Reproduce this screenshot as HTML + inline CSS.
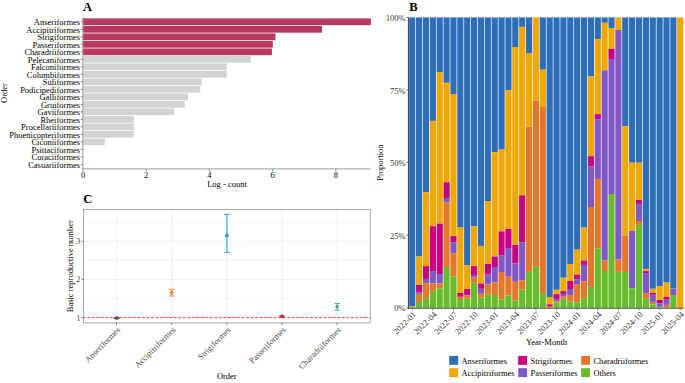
<!DOCTYPE html>
<html><head><meta charset="utf-8"><style>
html,body{margin:0;padding:0;background:#fff;}
body{width:685px;height:383px;overflow:hidden;}
svg{display:block;font-family:"Liberation Serif", serif;}
</style></head><body>
<svg width="685" height="383" viewBox="0 0 685 383">
<rect width="685" height="383" fill="#fff"/>
<text x="83.00" y="11.40" font-size="12.5" text-anchor="start" fill="#000" font-weight="bold">A</text>
<rect x="83.0" y="18.43" width="287.90" height="6.75" fill="#B93A5E"/>
<line x1="80.9" x2="82.8" y1="21.80" y2="21.80" stroke="#333" stroke-width="0.75"/>
<text x="80.10" y="25.30" font-size="8.5" text-anchor="end" fill="#000" font-weight="normal">Anseriformes</text>
<rect x="83.0" y="25.93" width="239.10" height="6.75" fill="#B93A5E"/>
<line x1="80.9" x2="82.8" y1="29.31" y2="29.31" stroke="#333" stroke-width="0.75"/>
<text x="80.10" y="32.81" font-size="8.5" text-anchor="end" fill="#000" font-weight="normal">Accipitriformes</text>
<rect x="83.0" y="33.44" width="192.50" height="6.75" fill="#B93A5E"/>
<line x1="80.9" x2="82.8" y1="36.81" y2="36.81" stroke="#333" stroke-width="0.75"/>
<text x="80.10" y="40.31" font-size="8.5" text-anchor="end" fill="#000" font-weight="normal">Strigiformes</text>
<rect x="83.0" y="40.94" width="189.80" height="6.75" fill="#B93A5E"/>
<line x1="80.9" x2="82.8" y1="44.32" y2="44.32" stroke="#333" stroke-width="0.75"/>
<text x="80.10" y="47.82" font-size="8.5" text-anchor="end" fill="#000" font-weight="normal">Passeriformes</text>
<rect x="83.0" y="48.45" width="188.90" height="6.75" fill="#B93A5E"/>
<line x1="80.9" x2="82.8" y1="51.82" y2="51.82" stroke="#333" stroke-width="0.75"/>
<text x="80.10" y="55.32" font-size="8.5" text-anchor="end" fill="#000" font-weight="normal">Charadriiformes</text>
<rect x="83.0" y="55.95" width="168.00" height="6.75" fill="#D3D3D3"/>
<line x1="80.9" x2="82.8" y1="59.33" y2="59.33" stroke="#333" stroke-width="0.75"/>
<text x="80.10" y="62.83" font-size="8.5" text-anchor="end" fill="#000" font-weight="normal">Pelecaniformes</text>
<rect x="83.0" y="63.46" width="143.80" height="6.75" fill="#D3D3D3"/>
<line x1="80.9" x2="82.8" y1="66.83" y2="66.83" stroke="#333" stroke-width="0.75"/>
<text x="80.10" y="70.33" font-size="8.5" text-anchor="end" fill="#000" font-weight="normal">Falconiformes</text>
<rect x="83.0" y="70.96" width="143.80" height="6.75" fill="#D3D3D3"/>
<line x1="80.9" x2="82.8" y1="74.34" y2="74.34" stroke="#333" stroke-width="0.75"/>
<text x="80.10" y="77.84" font-size="8.5" text-anchor="end" fill="#000" font-weight="normal">Columbiformes</text>
<rect x="83.0" y="78.47" width="118.70" height="6.75" fill="#D3D3D3"/>
<line x1="80.9" x2="82.8" y1="81.84" y2="81.84" stroke="#333" stroke-width="0.75"/>
<text x="80.10" y="85.34" font-size="8.5" text-anchor="end" fill="#000" font-weight="normal">Suliformes</text>
<rect x="83.0" y="85.97" width="117.20" height="6.75" fill="#D3D3D3"/>
<line x1="80.9" x2="82.8" y1="89.35" y2="89.35" stroke="#333" stroke-width="0.75"/>
<text x="80.10" y="92.85" font-size="8.5" text-anchor="end" fill="#000" font-weight="normal">Podicipediformes</text>
<rect x="83.0" y="93.48" width="105.00" height="6.75" fill="#D3D3D3"/>
<line x1="80.9" x2="82.8" y1="96.85" y2="96.85" stroke="#333" stroke-width="0.75"/>
<text x="80.10" y="100.35" font-size="8.5" text-anchor="end" fill="#000" font-weight="normal">Galliformes</text>
<rect x="83.0" y="100.98" width="101.80" height="6.75" fill="#D3D3D3"/>
<line x1="80.9" x2="82.8" y1="104.36" y2="104.36" stroke="#333" stroke-width="0.75"/>
<text x="80.10" y="107.86" font-size="8.5" text-anchor="end" fill="#000" font-weight="normal">Gruiformes</text>
<rect x="83.0" y="108.49" width="91.20" height="6.75" fill="#D3D3D3"/>
<line x1="80.9" x2="82.8" y1="111.86" y2="111.86" stroke="#333" stroke-width="0.75"/>
<text x="80.10" y="115.36" font-size="8.5" text-anchor="end" fill="#000" font-weight="normal">Gaviiformes</text>
<rect x="83.0" y="115.99" width="50.80" height="6.75" fill="#D3D3D3"/>
<line x1="80.9" x2="82.8" y1="119.37" y2="119.37" stroke="#333" stroke-width="0.75"/>
<text x="80.10" y="122.87" font-size="8.5" text-anchor="end" fill="#000" font-weight="normal">Rheiformes</text>
<rect x="83.0" y="123.50" width="50.80" height="6.75" fill="#D3D3D3"/>
<line x1="80.9" x2="82.8" y1="126.87" y2="126.87" stroke="#333" stroke-width="0.75"/>
<text x="80.10" y="130.37" font-size="8.5" text-anchor="end" fill="#000" font-weight="normal">Procellariiformes</text>
<rect x="83.0" y="131.00" width="50.80" height="6.75" fill="#D3D3D3"/>
<line x1="80.9" x2="82.8" y1="134.38" y2="134.38" stroke="#333" stroke-width="0.75"/>
<text x="80.10" y="137.88" font-size="8.5" text-anchor="end" fill="#000" font-weight="normal">Phoenicopteriformes</text>
<rect x="83.0" y="138.51" width="21.90" height="6.75" fill="#D3D3D3"/>
<line x1="80.9" x2="82.8" y1="141.88" y2="141.88" stroke="#333" stroke-width="0.75"/>
<text x="80.10" y="145.38" font-size="8.5" text-anchor="end" fill="#000" font-weight="normal">Ciconiiformes</text>
<line x1="80.9" x2="82.8" y1="149.39" y2="149.39" stroke="#333" stroke-width="0.75"/>
<text x="80.10" y="152.89" font-size="8.5" text-anchor="end" fill="#000" font-weight="normal">Psittaciformes</text>
<line x1="80.9" x2="82.8" y1="156.89" y2="156.89" stroke="#333" stroke-width="0.75"/>
<text x="80.10" y="160.39" font-size="8.5" text-anchor="end" fill="#000" font-weight="normal">Coraciiformes</text>
<line x1="80.9" x2="82.8" y1="164.40" y2="164.40" stroke="#333" stroke-width="0.75"/>
<text x="80.10" y="167.90" font-size="8.5" text-anchor="end" fill="#000" font-weight="normal">Casuariiformes</text>
<line x1="82.8" x2="82.8" y1="17.3" y2="169.401" stroke="#9a9a9a" stroke-width="1"/>
<line x1="82.3" x2="371.0" y1="168.90" y2="168.90" stroke="#9a9a9a" stroke-width="1"/>
<line x1="83.00" x2="83.00" y1="169.40" y2="171.40" stroke="#333" stroke-width="0.6"/>
<text x="83.00" y="177.60" font-size="8.5" text-anchor="middle" fill="#000" font-weight="normal">0</text>
<line x1="146.20" x2="146.20" y1="169.40" y2="171.40" stroke="#333" stroke-width="0.6"/>
<text x="146.20" y="177.60" font-size="8.5" text-anchor="middle" fill="#000" font-weight="normal">2</text>
<line x1="209.40" x2="209.40" y1="169.40" y2="171.40" stroke="#333" stroke-width="0.6"/>
<text x="209.40" y="177.60" font-size="8.5" text-anchor="middle" fill="#000" font-weight="normal">4</text>
<line x1="272.60" x2="272.60" y1="169.40" y2="171.40" stroke="#333" stroke-width="0.6"/>
<text x="272.60" y="177.60" font-size="8.5" text-anchor="middle" fill="#000" font-weight="normal">6</text>
<line x1="335.80" x2="335.80" y1="169.40" y2="171.40" stroke="#333" stroke-width="0.6"/>
<text x="335.80" y="177.60" font-size="8.5" text-anchor="middle" fill="#000" font-weight="normal">8</text>
<text x="227.00" y="187.30" font-size="8.5" text-anchor="middle" fill="#000" font-weight="normal">Log - count</text>
<text x="0.00" y="0.00" font-size="8.5" text-anchor="middle" fill="#000" font-weight="normal" transform="translate(6.6,93.10) rotate(-90)">Order</text>
<text x="409.20" y="11.40" font-size="12.5" text-anchor="start" fill="#000" font-weight="bold">B</text>
<rect x="409.14" y="17.40" width="6.18" height="289.20" fill="#2E6DB8"/>
<rect x="409.14" y="306.60" width="6.18" height="1.10" fill="#F0A800"/>
<rect x="416.02" y="17.40" width="6.18" height="239.10" fill="#2E6DB8"/>
<rect x="416.02" y="256.50" width="6.18" height="28.50" fill="#F0A800"/>
<rect x="416.02" y="285.00" width="6.18" height="7.20" fill="#C7007E"/>
<rect x="416.02" y="292.20" width="6.18" height="1.70" fill="#7F58C6"/>
<rect x="416.02" y="293.90" width="6.18" height="8.10" fill="#E5772B"/>
<rect x="416.02" y="302.00" width="6.18" height="5.70" fill="#67BC2B"/>
<rect x="422.89" y="17.40" width="6.18" height="174.80" fill="#2E6DB8"/>
<rect x="422.89" y="192.20" width="6.18" height="73.90" fill="#F0A800"/>
<rect x="422.89" y="266.10" width="6.18" height="12.80" fill="#C7007E"/>
<rect x="422.89" y="278.90" width="6.18" height="4.20" fill="#7F58C6"/>
<rect x="422.89" y="283.10" width="6.18" height="15.00" fill="#E5772B"/>
<rect x="422.89" y="298.10" width="6.18" height="9.60" fill="#67BC2B"/>
<rect x="429.76" y="17.40" width="6.18" height="103.50" fill="#2E6DB8"/>
<rect x="429.76" y="120.90" width="6.18" height="105.30" fill="#F0A800"/>
<rect x="429.76" y="226.20" width="6.18" height="44.90" fill="#C7007E"/>
<rect x="429.76" y="271.10" width="6.18" height="12.40" fill="#7F58C6"/>
<rect x="429.76" y="283.50" width="6.18" height="7.40" fill="#E5772B"/>
<rect x="429.76" y="290.90" width="6.18" height="16.80" fill="#67BC2B"/>
<rect x="436.63" y="17.40" width="6.18" height="55.00" fill="#2E6DB8"/>
<rect x="436.63" y="72.40" width="6.18" height="151.20" fill="#F0A800"/>
<rect x="436.63" y="223.60" width="6.18" height="50.50" fill="#C7007E"/>
<rect x="436.63" y="274.10" width="6.18" height="9.40" fill="#7F58C6"/>
<rect x="436.63" y="283.50" width="6.18" height="4.80" fill="#E5772B"/>
<rect x="436.63" y="288.30" width="6.18" height="19.40" fill="#67BC2B"/>
<rect x="443.50" y="17.40" width="6.18" height="65.40" fill="#2E6DB8"/>
<rect x="443.50" y="82.80" width="6.18" height="99.50" fill="#F0A800"/>
<rect x="443.50" y="182.30" width="6.18" height="15.70" fill="#C7007E"/>
<rect x="443.50" y="198.00" width="6.18" height="4.60" fill="#7F58C6"/>
<rect x="443.50" y="202.60" width="6.18" height="64.30" fill="#E5772B"/>
<rect x="443.50" y="266.90" width="6.18" height="40.80" fill="#67BC2B"/>
<rect x="450.38" y="17.40" width="6.18" height="76.60" fill="#2E6DB8"/>
<rect x="450.38" y="94.00" width="6.18" height="142.10" fill="#F0A800"/>
<rect x="450.38" y="236.10" width="6.18" height="6.00" fill="#C7007E"/>
<rect x="450.38" y="242.10" width="6.18" height="11.00" fill="#7F58C6"/>
<rect x="450.38" y="253.10" width="6.18" height="23.20" fill="#E5772B"/>
<rect x="450.38" y="276.30" width="6.18" height="31.40" fill="#67BC2B"/>
<rect x="457.25" y="17.40" width="6.18" height="209.60" fill="#2E6DB8"/>
<rect x="457.25" y="227.00" width="6.18" height="65.90" fill="#F0A800"/>
<rect x="457.25" y="292.90" width="6.18" height="3.90" fill="#C7007E"/>
<rect x="457.25" y="296.80" width="6.18" height="2.20" fill="#E5772B"/>
<rect x="457.25" y="299.00" width="6.18" height="8.70" fill="#67BC2B"/>
<rect x="464.12" y="17.40" width="6.18" height="247.90" fill="#2E6DB8"/>
<rect x="464.12" y="265.30" width="6.18" height="23.70" fill="#F0A800"/>
<rect x="464.12" y="289.00" width="6.18" height="5.90" fill="#C7007E"/>
<rect x="464.12" y="294.90" width="6.18" height="0.80" fill="#7F58C6"/>
<rect x="464.12" y="295.70" width="6.18" height="3.10" fill="#E5772B"/>
<rect x="464.12" y="298.80" width="6.18" height="8.90" fill="#67BC2B"/>
<rect x="470.99" y="17.40" width="6.18" height="208.80" fill="#2E6DB8"/>
<rect x="470.99" y="226.20" width="6.18" height="39.90" fill="#F0A800"/>
<rect x="470.99" y="266.10" width="6.18" height="8.90" fill="#C7007E"/>
<rect x="470.99" y="275.00" width="6.18" height="2.60" fill="#7F58C6"/>
<rect x="470.99" y="277.60" width="6.18" height="5.30" fill="#E5772B"/>
<rect x="470.99" y="282.90" width="6.18" height="24.80" fill="#67BC2B"/>
<rect x="477.86" y="17.40" width="6.18" height="228.50" fill="#2E6DB8"/>
<rect x="477.86" y="245.90" width="6.18" height="37.60" fill="#F0A800"/>
<rect x="477.86" y="283.50" width="6.18" height="5.30" fill="#C7007E"/>
<rect x="477.86" y="288.80" width="6.18" height="5.00" fill="#7F58C6"/>
<rect x="477.86" y="293.80" width="6.18" height="3.90" fill="#E5772B"/>
<rect x="477.86" y="297.70" width="6.18" height="10.00" fill="#67BC2B"/>
<rect x="484.74" y="17.40" width="6.18" height="183.60" fill="#2E6DB8"/>
<rect x="484.74" y="201.00" width="6.18" height="63.00" fill="#F0A800"/>
<rect x="484.74" y="264.00" width="6.18" height="10.60" fill="#C7007E"/>
<rect x="484.74" y="274.60" width="6.18" height="9.80" fill="#7F58C6"/>
<rect x="484.74" y="284.40" width="6.18" height="9.80" fill="#E5772B"/>
<rect x="484.74" y="294.20" width="6.18" height="13.50" fill="#67BC2B"/>
<rect x="491.61" y="17.40" width="6.18" height="134.80" fill="#2E6DB8"/>
<rect x="491.61" y="152.20" width="6.18" height="104.30" fill="#F0A800"/>
<rect x="491.61" y="256.50" width="6.18" height="10.50" fill="#C7007E"/>
<rect x="491.61" y="267.00" width="6.18" height="15.30" fill="#7F58C6"/>
<rect x="491.61" y="282.30" width="6.18" height="12.70" fill="#E5772B"/>
<rect x="491.61" y="295.00" width="6.18" height="12.70" fill="#67BC2B"/>
<rect x="498.48" y="17.40" width="6.18" height="132.20" fill="#2E6DB8"/>
<rect x="498.48" y="149.60" width="6.18" height="81.80" fill="#F0A800"/>
<rect x="498.48" y="231.40" width="6.18" height="23.70" fill="#C7007E"/>
<rect x="498.48" y="255.10" width="6.18" height="16.90" fill="#7F58C6"/>
<rect x="498.48" y="272.00" width="6.18" height="27.50" fill="#E5772B"/>
<rect x="498.48" y="299.50" width="6.18" height="8.20" fill="#67BC2B"/>
<rect x="505.35" y="17.40" width="6.18" height="72.70" fill="#2E6DB8"/>
<rect x="505.35" y="90.10" width="6.18" height="138.70" fill="#F0A800"/>
<rect x="505.35" y="228.80" width="6.18" height="19.20" fill="#C7007E"/>
<rect x="505.35" y="248.00" width="6.18" height="28.80" fill="#7F58C6"/>
<rect x="505.35" y="276.80" width="6.18" height="18.60" fill="#E5772B"/>
<rect x="505.35" y="295.40" width="6.18" height="12.30" fill="#67BC2B"/>
<rect x="512.22" y="17.40" width="6.18" height="29.60" fill="#2E6DB8"/>
<rect x="512.22" y="47.00" width="6.18" height="197.80" fill="#F0A800"/>
<rect x="512.22" y="244.80" width="6.18" height="18.70" fill="#C7007E"/>
<rect x="512.22" y="263.50" width="6.18" height="18.30" fill="#7F58C6"/>
<rect x="512.22" y="281.80" width="6.18" height="18.70" fill="#E5772B"/>
<rect x="512.22" y="300.50" width="6.18" height="7.20" fill="#67BC2B"/>
<rect x="519.10" y="17.40" width="6.18" height="9.50" fill="#2E6DB8"/>
<rect x="519.10" y="26.90" width="6.18" height="168.40" fill="#F0A800"/>
<rect x="519.10" y="195.30" width="6.18" height="46.90" fill="#C7007E"/>
<rect x="519.10" y="242.20" width="6.18" height="38.00" fill="#7F58C6"/>
<rect x="519.10" y="280.20" width="6.18" height="9.50" fill="#E5772B"/>
<rect x="519.10" y="289.70" width="6.18" height="18.00" fill="#67BC2B"/>
<rect x="525.97" y="17.40" width="6.18" height="36.20" fill="#2E6DB8"/>
<rect x="525.97" y="53.60" width="6.18" height="73.10" fill="#F0A800"/>
<rect x="525.97" y="126.70" width="6.18" height="145.20" fill="#E5772B"/>
<rect x="525.97" y="271.90" width="6.18" height="35.80" fill="#67BC2B"/>
<rect x="532.84" y="17.40" width="6.18" height="83.20" fill="#F0A800"/>
<rect x="532.84" y="100.60" width="6.18" height="166.20" fill="#E5772B"/>
<rect x="532.84" y="266.80" width="6.18" height="40.90" fill="#67BC2B"/>
<rect x="539.71" y="17.40" width="6.18" height="52.30" fill="#2E6DB8"/>
<rect x="539.71" y="69.70" width="6.18" height="37.30" fill="#F0A800"/>
<rect x="539.71" y="107.00" width="6.18" height="186.10" fill="#E5772B"/>
<rect x="539.71" y="293.10" width="6.18" height="14.60" fill="#67BC2B"/>
<rect x="546.58" y="17.40" width="6.18" height="279.60" fill="#2E6DB8"/>
<rect x="546.58" y="297.00" width="6.18" height="7.40" fill="#F0A800"/>
<rect x="546.58" y="304.40" width="6.18" height="1.60" fill="#C7007E"/>
<rect x="546.58" y="306.00" width="6.18" height="1.70" fill="#E5772B"/>
<rect x="553.46" y="17.40" width="6.18" height="272.40" fill="#2E6DB8"/>
<rect x="553.46" y="289.80" width="6.18" height="4.30" fill="#F0A800"/>
<rect x="553.46" y="294.10" width="6.18" height="4.80" fill="#C7007E"/>
<rect x="553.46" y="298.90" width="6.18" height="2.00" fill="#7F58C6"/>
<rect x="553.46" y="300.90" width="6.18" height="1.50" fill="#E5772B"/>
<rect x="553.46" y="302.40" width="6.18" height="5.30" fill="#67BC2B"/>
<rect x="560.33" y="17.40" width="6.18" height="260.30" fill="#2E6DB8"/>
<rect x="560.33" y="277.70" width="6.18" height="13.50" fill="#F0A800"/>
<rect x="560.33" y="291.20" width="6.18" height="2.70" fill="#C7007E"/>
<rect x="560.33" y="293.90" width="6.18" height="2.80" fill="#7F58C6"/>
<rect x="560.33" y="296.70" width="6.18" height="2.10" fill="#E5772B"/>
<rect x="560.33" y="298.80" width="6.18" height="8.90" fill="#67BC2B"/>
<rect x="567.20" y="17.40" width="6.18" height="246.70" fill="#2E6DB8"/>
<rect x="567.20" y="264.10" width="6.18" height="16.90" fill="#F0A800"/>
<rect x="567.20" y="281.00" width="6.18" height="8.00" fill="#C7007E"/>
<rect x="567.20" y="289.00" width="6.18" height="6.00" fill="#7F58C6"/>
<rect x="567.20" y="295.00" width="6.18" height="6.50" fill="#E5772B"/>
<rect x="567.20" y="301.50" width="6.18" height="6.20" fill="#67BC2B"/>
<rect x="574.07" y="17.40" width="6.18" height="232.30" fill="#2E6DB8"/>
<rect x="574.07" y="249.70" width="6.18" height="25.00" fill="#F0A800"/>
<rect x="574.07" y="274.70" width="6.18" height="4.50" fill="#C7007E"/>
<rect x="574.07" y="279.20" width="6.18" height="4.90" fill="#7F58C6"/>
<rect x="574.07" y="284.10" width="6.18" height="18.10" fill="#E5772B"/>
<rect x="574.07" y="302.20" width="6.18" height="5.50" fill="#67BC2B"/>
<rect x="580.94" y="17.40" width="6.18" height="210.20" fill="#2E6DB8"/>
<rect x="580.94" y="227.60" width="6.18" height="33.00" fill="#F0A800"/>
<rect x="580.94" y="260.60" width="6.18" height="4.30" fill="#C7007E"/>
<rect x="580.94" y="264.90" width="6.18" height="16.30" fill="#7F58C6"/>
<rect x="580.94" y="281.20" width="6.18" height="16.90" fill="#E5772B"/>
<rect x="580.94" y="298.10" width="6.18" height="9.60" fill="#67BC2B"/>
<rect x="587.82" y="17.40" width="6.18" height="58.90" fill="#2E6DB8"/>
<rect x="587.82" y="76.30" width="6.18" height="79.90" fill="#F0A800"/>
<rect x="587.82" y="156.20" width="6.18" height="10.40" fill="#C7007E"/>
<rect x="587.82" y="166.60" width="6.18" height="40.40" fill="#7F58C6"/>
<rect x="587.82" y="207.00" width="6.18" height="79.90" fill="#E5772B"/>
<rect x="587.82" y="286.90" width="6.18" height="20.80" fill="#67BC2B"/>
<rect x="594.69" y="17.40" width="6.18" height="21.70" fill="#2E6DB8"/>
<rect x="594.69" y="39.10" width="6.18" height="75.00" fill="#F0A800"/>
<rect x="594.69" y="114.10" width="6.18" height="5.50" fill="#C7007E"/>
<rect x="594.69" y="119.60" width="6.18" height="59.30" fill="#7F58C6"/>
<rect x="594.69" y="178.90" width="6.18" height="69.80" fill="#E5772B"/>
<rect x="594.69" y="248.70" width="6.18" height="59.00" fill="#67BC2B"/>
<rect x="601.56" y="17.40" width="6.18" height="5.40" fill="#2E6DB8"/>
<rect x="601.56" y="22.80" width="6.18" height="47.50" fill="#F0A800"/>
<rect x="601.56" y="70.30" width="6.18" height="190.20" fill="#7F58C6"/>
<rect x="601.56" y="260.50" width="6.18" height="10.50" fill="#E5772B"/>
<rect x="601.56" y="271.00" width="6.18" height="36.70" fill="#67BC2B"/>
<rect x="608.43" y="17.40" width="6.18" height="10.60" fill="#2E6DB8"/>
<rect x="608.43" y="28.00" width="6.18" height="20.80" fill="#F0A800"/>
<rect x="608.43" y="48.80" width="6.18" height="10.20" fill="#C7007E"/>
<rect x="608.43" y="59.00" width="6.18" height="135.00" fill="#7F58C6"/>
<rect x="608.43" y="194.00" width="6.18" height="113.70" fill="#67BC2B"/>
<rect x="615.30" y="17.40" width="6.18" height="12.40" fill="#F0A800"/>
<rect x="615.30" y="29.80" width="6.18" height="229.80" fill="#7F58C6"/>
<rect x="615.30" y="259.60" width="6.18" height="12.30" fill="#E5772B"/>
<rect x="615.30" y="271.90" width="6.18" height="35.80" fill="#67BC2B"/>
<rect x="622.18" y="17.40" width="6.18" height="108.70" fill="#2E6DB8"/>
<rect x="622.18" y="126.10" width="6.18" height="109.50" fill="#F0A800"/>
<rect x="622.18" y="235.60" width="6.18" height="36.30" fill="#E5772B"/>
<rect x="622.18" y="271.90" width="6.18" height="35.80" fill="#67BC2B"/>
<rect x="629.05" y="17.40" width="6.18" height="145.30" fill="#2E6DB8"/>
<rect x="629.05" y="162.70" width="6.18" height="68.20" fill="#F0A800"/>
<rect x="629.05" y="230.90" width="6.18" height="57.40" fill="#7F58C6"/>
<rect x="629.05" y="288.30" width="6.18" height="19.40" fill="#67BC2B"/>
<rect x="635.92" y="17.40" width="6.18" height="145.30" fill="#2E6DB8"/>
<rect x="635.92" y="162.70" width="6.18" height="37.30" fill="#F0A800"/>
<rect x="635.92" y="200.00" width="6.18" height="3.90" fill="#C7007E"/>
<rect x="635.92" y="203.90" width="6.18" height="17.10" fill="#7F58C6"/>
<rect x="635.92" y="221.00" width="6.18" height="3.90" fill="#E5772B"/>
<rect x="635.92" y="224.90" width="6.18" height="82.80" fill="#67BC2B"/>
<rect x="642.79" y="17.40" width="6.18" height="251.50" fill="#2E6DB8"/>
<rect x="642.79" y="268.90" width="6.18" height="2.20" fill="#F0A800"/>
<rect x="642.79" y="271.10" width="6.18" height="2.00" fill="#C7007E"/>
<rect x="642.79" y="273.10" width="6.18" height="20.00" fill="#7F58C6"/>
<rect x="642.79" y="293.10" width="6.18" height="5.70" fill="#E5772B"/>
<rect x="642.79" y="298.80" width="6.18" height="8.90" fill="#67BC2B"/>
<rect x="649.66" y="17.40" width="6.18" height="271.40" fill="#2E6DB8"/>
<rect x="649.66" y="288.80" width="6.18" height="4.00" fill="#F0A800"/>
<rect x="649.66" y="292.80" width="6.18" height="2.00" fill="#C7007E"/>
<rect x="649.66" y="294.80" width="6.18" height="7.10" fill="#7F58C6"/>
<rect x="649.66" y="301.90" width="6.18" height="2.40" fill="#E5772B"/>
<rect x="649.66" y="304.30" width="6.18" height="3.40" fill="#67BC2B"/>
<rect x="656.54" y="17.40" width="6.18" height="268.70" fill="#2E6DB8"/>
<rect x="656.54" y="286.10" width="6.18" height="13.90" fill="#F0A800"/>
<rect x="656.54" y="300.00" width="6.18" height="3.50" fill="#C7007E"/>
<rect x="656.54" y="303.50" width="6.18" height="3.30" fill="#7F58C6"/>
<rect x="656.54" y="306.80" width="6.18" height="0.90" fill="#67BC2B"/>
<rect x="663.41" y="17.40" width="6.18" height="265.20" fill="#2E6DB8"/>
<rect x="663.41" y="282.60" width="6.18" height="14.20" fill="#F0A800"/>
<rect x="663.41" y="296.80" width="6.18" height="3.00" fill="#C7007E"/>
<rect x="663.41" y="299.80" width="6.18" height="5.10" fill="#7F58C6"/>
<rect x="663.41" y="304.90" width="6.18" height="2.30" fill="#E5772B"/>
<rect x="663.41" y="307.20" width="6.18" height="0.50" fill="#67BC2B"/>
<rect x="670.28" y="17.40" width="6.18" height="271.00" fill="#2E6DB8"/>
<rect x="670.28" y="288.40" width="6.18" height="6.60" fill="#7F58C6"/>
<rect x="670.28" y="295.00" width="6.18" height="12.70" fill="#67BC2B"/>
<rect x="677.15" y="17.40" width="6.18" height="290.30" fill="#F0A800"/>
<line x1="408.40" x2="408.40" y1="17.4" y2="308.3" stroke="#222" stroke-width="0.9"/>
<line x1="408.00" x2="683.6" y1="308.20" y2="308.20" stroke="#222" stroke-width="0.9"/>
<line x1="406.20" x2="408.40" y1="17.40" y2="17.40" stroke="#333" stroke-width="0.6"/>
<text x="405.60" y="21.10" font-size="8.5" text-anchor="end" fill="#333" font-weight="normal">100%</text>
<line x1="406.20" x2="408.40" y1="89.97" y2="89.97" stroke="#333" stroke-width="0.6"/>
<text x="405.60" y="93.67" font-size="8.5" text-anchor="end" fill="#333" font-weight="normal">75%</text>
<line x1="406.20" x2="408.40" y1="162.55" y2="162.55" stroke="#333" stroke-width="0.6"/>
<text x="405.60" y="166.25" font-size="8.5" text-anchor="end" fill="#333" font-weight="normal">50%</text>
<line x1="406.20" x2="408.40" y1="235.13" y2="235.13" stroke="#333" stroke-width="0.6"/>
<text x="405.60" y="238.83" font-size="8.5" text-anchor="end" fill="#333" font-weight="normal">25%</text>
<line x1="406.20" x2="408.40" y1="307.70" y2="307.70" stroke="#333" stroke-width="0.6"/>
<text x="405.60" y="311.40" font-size="8.5" text-anchor="end" fill="#333" font-weight="normal">0%</text>
<line x1="412.24" x2="412.24" y1="308.60" y2="310.30" stroke="#333" stroke-width="0.6"/>
<text x="0.00" y="0.00" font-size="8.5" text-anchor="end" fill="#333" font-weight="normal" transform="translate(416.54,315.00) rotate(-45)">2022-01</text>
<line x1="432.85" x2="432.85" y1="308.60" y2="310.30" stroke="#333" stroke-width="0.6"/>
<text x="0.00" y="0.00" font-size="8.5" text-anchor="end" fill="#333" font-weight="normal" transform="translate(437.15,315.00) rotate(-45)">2022-04</text>
<line x1="453.47" x2="453.47" y1="308.60" y2="310.30" stroke="#333" stroke-width="0.6"/>
<text x="0.00" y="0.00" font-size="8.5" text-anchor="end" fill="#333" font-weight="normal" transform="translate(457.77,315.00) rotate(-45)">2022-07</text>
<line x1="474.08" x2="474.08" y1="308.60" y2="310.30" stroke="#333" stroke-width="0.6"/>
<text x="0.00" y="0.00" font-size="8.5" text-anchor="end" fill="#333" font-weight="normal" transform="translate(478.38,315.00) rotate(-45)">2022-10</text>
<line x1="494.70" x2="494.70" y1="308.60" y2="310.30" stroke="#333" stroke-width="0.6"/>
<text x="0.00" y="0.00" font-size="8.5" text-anchor="end" fill="#333" font-weight="normal" transform="translate(499.00,315.00) rotate(-45)">2023-01</text>
<line x1="515.32" x2="515.32" y1="308.60" y2="310.30" stroke="#333" stroke-width="0.6"/>
<text x="0.00" y="0.00" font-size="8.5" text-anchor="end" fill="#333" font-weight="normal" transform="translate(519.62,315.00) rotate(-45)">2023-04</text>
<line x1="535.93" x2="535.93" y1="308.60" y2="310.30" stroke="#333" stroke-width="0.6"/>
<text x="0.00" y="0.00" font-size="8.5" text-anchor="end" fill="#333" font-weight="normal" transform="translate(540.23,315.00) rotate(-45)">2023-07</text>
<line x1="556.55" x2="556.55" y1="308.60" y2="310.30" stroke="#333" stroke-width="0.6"/>
<text x="0.00" y="0.00" font-size="8.5" text-anchor="end" fill="#333" font-weight="normal" transform="translate(560.85,315.00) rotate(-45)">2023-10</text>
<line x1="577.16" x2="577.16" y1="308.60" y2="310.30" stroke="#333" stroke-width="0.6"/>
<text x="0.00" y="0.00" font-size="8.5" text-anchor="end" fill="#333" font-weight="normal" transform="translate(581.46,315.00) rotate(-45)">2024-01</text>
<line x1="597.78" x2="597.78" y1="308.60" y2="310.30" stroke="#333" stroke-width="0.6"/>
<text x="0.00" y="0.00" font-size="8.5" text-anchor="end" fill="#333" font-weight="normal" transform="translate(602.08,315.00) rotate(-45)">2024-04</text>
<line x1="618.40" x2="618.40" y1="308.60" y2="310.30" stroke="#333" stroke-width="0.6"/>
<text x="0.00" y="0.00" font-size="8.5" text-anchor="end" fill="#333" font-weight="normal" transform="translate(622.70,315.00) rotate(-45)">2024-07</text>
<line x1="639.01" x2="639.01" y1="308.60" y2="310.30" stroke="#333" stroke-width="0.6"/>
<text x="0.00" y="0.00" font-size="8.5" text-anchor="end" fill="#333" font-weight="normal" transform="translate(643.31,315.00) rotate(-45)">2024-10</text>
<line x1="659.63" x2="659.63" y1="308.60" y2="310.30" stroke="#333" stroke-width="0.6"/>
<text x="0.00" y="0.00" font-size="8.5" text-anchor="end" fill="#333" font-weight="normal" transform="translate(663.93,315.00) rotate(-45)">2025-01</text>
<line x1="680.24" x2="680.24" y1="308.60" y2="310.30" stroke="#333" stroke-width="0.6"/>
<text x="0.00" y="0.00" font-size="8.5" text-anchor="end" fill="#333" font-weight="normal" transform="translate(684.54,315.00) rotate(-45)">2025-04</text>
<text x="546.50" y="344.60" font-size="8.5" text-anchor="middle" fill="#000" font-weight="normal">Year-Month</text>
<text x="0.00" y="0.00" font-size="8.5" text-anchor="middle" fill="#000" font-weight="normal" transform="translate(382.7,162.55) rotate(-90)">Proportion</text>
<rect x="449.2" y="355.9" width="8.9" height="8.9" fill="#2E6DB8"/>
<text x="461.50" y="364.00" font-size="8.4" text-anchor="start" fill="#000" font-weight="normal">Anseriformes</text>
<rect x="449.2" y="368.2" width="8.9" height="8.9" fill="#F0A800"/>
<text x="461.50" y="376.30" font-size="8.4" text-anchor="start" fill="#000" font-weight="normal">Accipitriformes</text>
<rect x="518.2" y="355.9" width="8.9" height="8.9" fill="#C7007E"/>
<text x="530.50" y="364.00" font-size="8.4" text-anchor="start" fill="#000" font-weight="normal">Strigiformes</text>
<rect x="518.2" y="368.2" width="8.9" height="8.9" fill="#7F58C6"/>
<text x="530.50" y="376.30" font-size="8.4" text-anchor="start" fill="#000" font-weight="normal">Passeriformes</text>
<rect x="581.1" y="355.9" width="8.9" height="8.9" fill="#E5772B"/>
<text x="593.40" y="364.00" font-size="8.4" text-anchor="start" fill="#000" font-weight="normal">Charadriiformes</text>
<rect x="581.1" y="368.2" width="8.9" height="8.9" fill="#67BC2B"/>
<text x="593.40" y="376.30" font-size="8.4" text-anchor="start" fill="#000" font-weight="normal">Others</text>
<text x="83.30" y="203.20" font-size="12.5" text-anchor="start" fill="#000" font-weight="bold">C</text>
<rect x="83.5" y="209.6" width="286.70" height="113.30" fill="#fff"/>
<line x1="83.5" x2="370.2" y1="298.53" y2="298.53" stroke="#efefef" stroke-width="0.6"/>
<line x1="83.5" x2="370.2" y1="260.38" y2="260.38" stroke="#efefef" stroke-width="0.6"/>
<line x1="83.5" x2="370.2" y1="222.23" y2="222.23" stroke="#efefef" stroke-width="0.6"/>
<line x1="83.5" x2="370.2" y1="317.60" y2="317.60" stroke="#ebebeb" stroke-width="0.8"/>
<line x1="83.5" x2="370.2" y1="279.45" y2="279.45" stroke="#ebebeb" stroke-width="0.8"/>
<line x1="83.5" x2="370.2" y1="241.30" y2="241.30" stroke="#ebebeb" stroke-width="0.8"/>
<line x1="116.58" x2="116.58" y1="209.6" y2="322.9" stroke="#ebebeb" stroke-width="0.8"/>
<line x1="171.72" x2="171.72" y1="209.6" y2="322.9" stroke="#ebebeb" stroke-width="0.8"/>
<line x1="226.85" x2="226.85" y1="209.6" y2="322.9" stroke="#ebebeb" stroke-width="0.8"/>
<line x1="281.98" x2="281.98" y1="209.6" y2="322.9" stroke="#ebebeb" stroke-width="0.8"/>
<line x1="337.12" x2="337.12" y1="209.6" y2="322.9" stroke="#ebebeb" stroke-width="0.8"/>
<line x1="116.58" x2="116.58" y1="317.41" y2="318.55" stroke="#2F4F4F" stroke-width="1.05"/>
<line x1="113.73" x2="119.53" y1="318.55" y2="318.55" stroke="#2F4F4F" stroke-width="0.95"/>
<line x1="113.73" x2="119.53" y1="317.41" y2="317.41" stroke="#2F4F4F" stroke-width="0.95"/>
<circle cx="116.58" cy="317.98" r="1.85" fill="#2F4F4F"/>
<line x1="171.72" x2="171.72" y1="289.29" y2="296.01" stroke="#E8873A" stroke-width="1.05"/>
<line x1="168.87" x2="174.67" y1="296.01" y2="296.01" stroke="#E8873A" stroke-width="0.95"/>
<line x1="168.87" x2="174.67" y1="289.29" y2="289.29" stroke="#E8873A" stroke-width="0.95"/>
<circle cx="171.72" cy="292.61" r="1.85" fill="#E8873A"/>
<line x1="226.85" x2="226.85" y1="214.29" y2="252.29" stroke="#1AA1DB" stroke-width="1.05"/>
<line x1="224.00" x2="229.80" y1="252.29" y2="252.29" stroke="#1AA1DB" stroke-width="0.95"/>
<line x1="224.00" x2="229.80" y1="214.29" y2="214.29" stroke="#1AA1DB" stroke-width="0.95"/>
<circle cx="226.85" cy="235.39" r="1.85" fill="#1AA1DB"/>
<line x1="281.98" x2="281.98" y1="315.88" y2="317.03" stroke="#B0303A" stroke-width="1.05"/>
<line x1="279.13" x2="284.93" y1="317.03" y2="317.03" stroke="#B0303A" stroke-width="0.95"/>
<line x1="279.13" x2="284.93" y1="315.88" y2="315.88" stroke="#B0303A" stroke-width="0.95"/>
<circle cx="281.98" cy="316.46" r="1.85" fill="#B0303A"/>
<line x1="337.12" x2="337.12" y1="303.41" y2="310.20" stroke="#62A88B" stroke-width="1.05"/>
<line x1="334.27" x2="340.07" y1="310.20" y2="310.20" stroke="#62A88B" stroke-width="0.95"/>
<line x1="334.27" x2="340.07" y1="303.41" y2="303.41" stroke="#62A88B" stroke-width="0.95"/>
<circle cx="337.12" cy="306.69" r="1.85" fill="#62A88B"/>
<line x1="83.5" x2="370.2" y1="317.60" y2="317.60" stroke="#FF3A3A" stroke-width="0.95" stroke-dasharray="2.7 1.843" stroke-dashoffset="0.7"/>
<rect x="83.5" y="209.6" width="286.70" height="113.30" fill="none" stroke="#a0a0a0" stroke-width="0.9"/>
<line x1="81.3" x2="83.5" y1="317.60" y2="317.60" stroke="#333" stroke-width="0.6"/>
<text x="80.50" y="320.50" font-size="8.5" text-anchor="end" fill="#4d4d4d" font-weight="normal">1</text>
<line x1="81.3" x2="83.5" y1="279.45" y2="279.45" stroke="#333" stroke-width="0.6"/>
<text x="80.50" y="282.35" font-size="8.5" text-anchor="end" fill="#4d4d4d" font-weight="normal">2</text>
<line x1="81.3" x2="83.5" y1="241.30" y2="241.30" stroke="#333" stroke-width="0.6"/>
<text x="80.50" y="244.20" font-size="8.5" text-anchor="end" fill="#4d4d4d" font-weight="normal">3</text>
<line x1="116.58" x2="116.58" y1="322.9" y2="325.09999999999997" stroke="#333" stroke-width="0.6"/>
<text x="0.00" y="0.00" font-size="8.5" text-anchor="end" fill="#4d4d4d" font-weight="normal" transform="translate(120.88,330.30) rotate(-45)">Anseriformes</text>
<line x1="171.72" x2="171.72" y1="322.9" y2="325.09999999999997" stroke="#333" stroke-width="0.6"/>
<text x="0.00" y="0.00" font-size="8.5" text-anchor="end" fill="#4d4d4d" font-weight="normal" transform="translate(176.02,330.30) rotate(-45)">Accipitriformes</text>
<line x1="226.85" x2="226.85" y1="322.9" y2="325.09999999999997" stroke="#333" stroke-width="0.6"/>
<text x="0.00" y="0.00" font-size="8.5" text-anchor="end" fill="#4d4d4d" font-weight="normal" transform="translate(231.15,330.30) rotate(-45)">Strigiformes</text>
<line x1="281.98" x2="281.98" y1="322.9" y2="325.09999999999997" stroke="#333" stroke-width="0.6"/>
<text x="0.00" y="0.00" font-size="8.5" text-anchor="end" fill="#4d4d4d" font-weight="normal" transform="translate(286.28,330.30) rotate(-45)">Passeriformes</text>
<line x1="337.12" x2="337.12" y1="322.9" y2="325.09999999999997" stroke="#333" stroke-width="0.6"/>
<text x="0.00" y="0.00" font-size="8.5" text-anchor="end" fill="#4d4d4d" font-weight="normal" transform="translate(341.42,330.30) rotate(-45)">Charadriiformes</text>
<text x="226.80" y="378.70" font-size="8.5" text-anchor="middle" fill="#000" font-weight="normal">Order</text>
<text x="0.00" y="0.00" font-size="8.5" text-anchor="middle" fill="#000" font-weight="normal" transform="translate(72.6,266.25) rotate(-90)">Basic reproductive number</text>
</svg>
</body></html>
